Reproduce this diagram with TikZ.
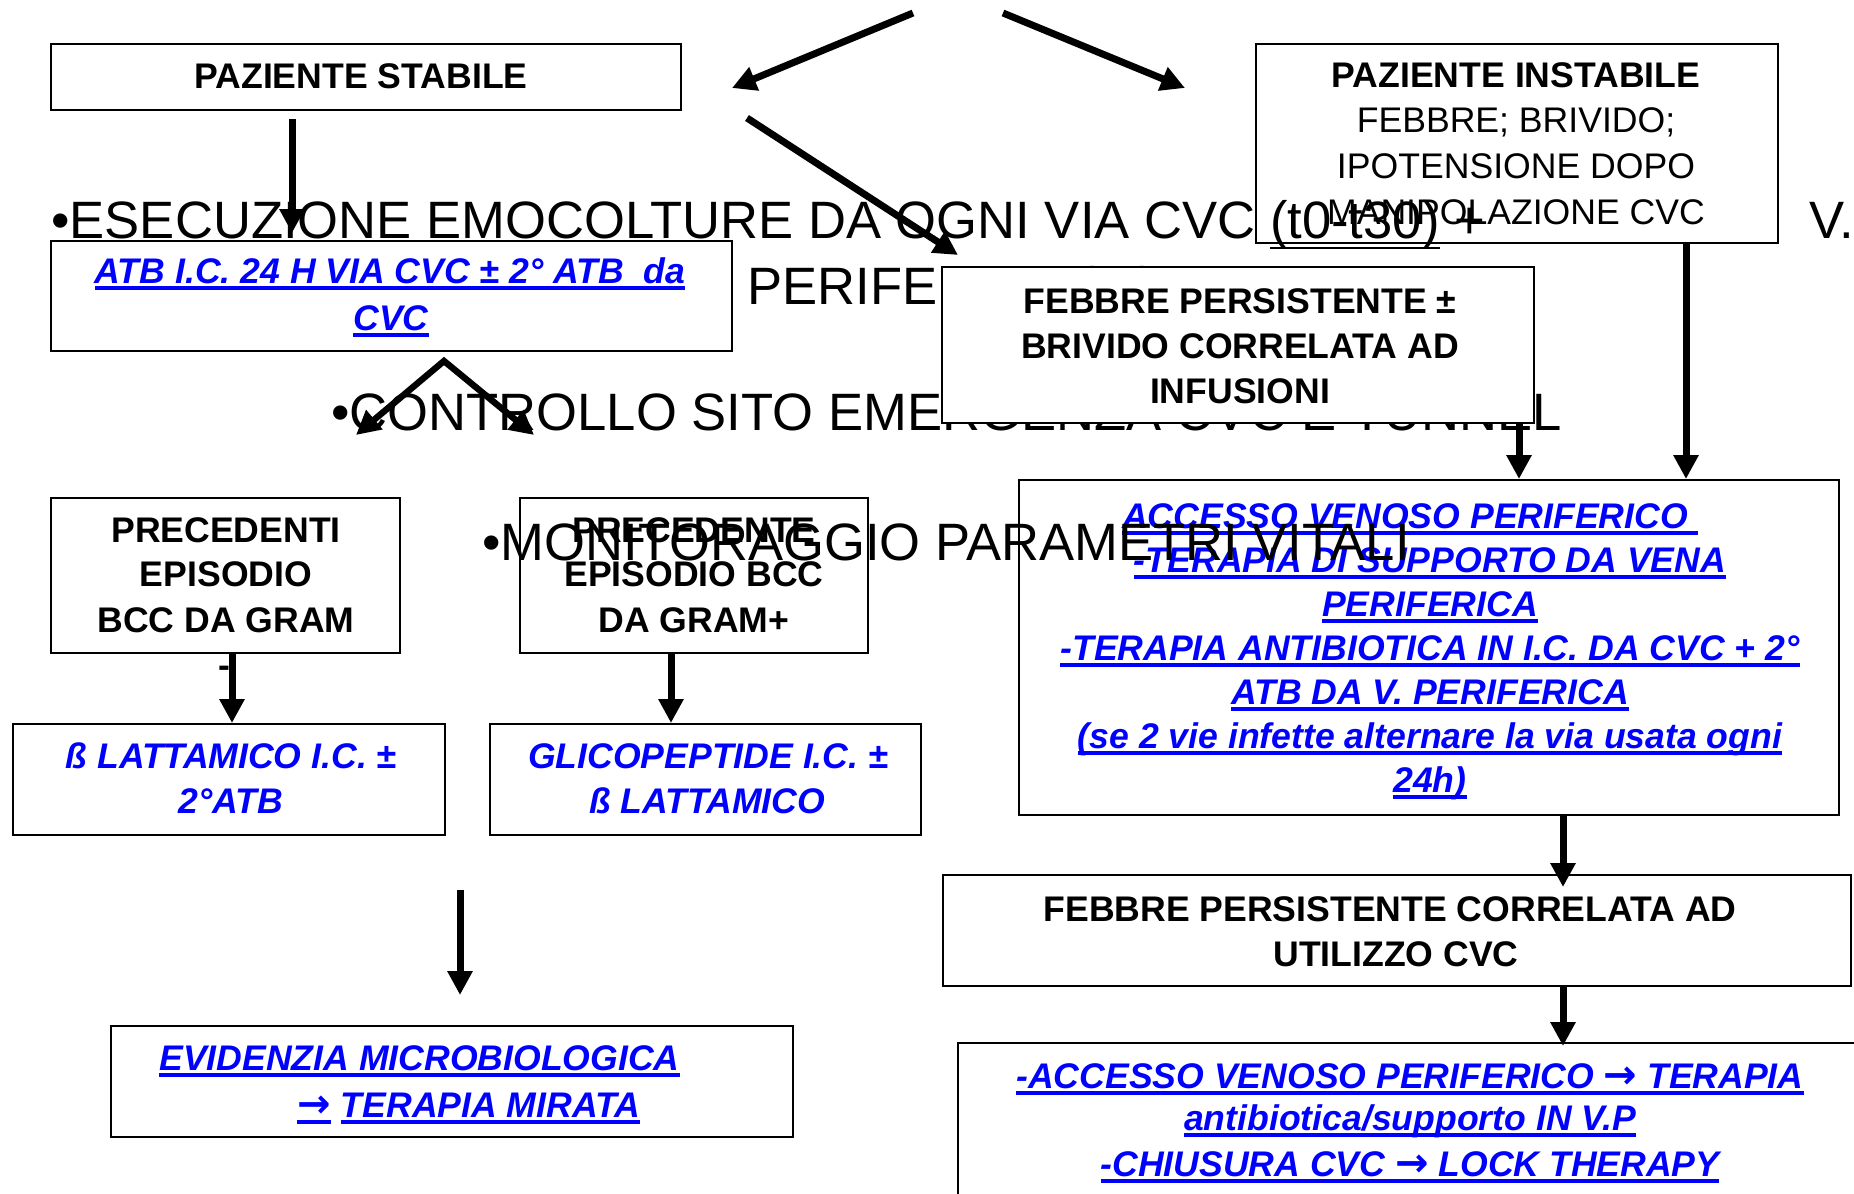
\documentclass[tikz,border=0pt]{standalone}
\usepackage{fontspec}
\setmainfont{Liberation Sans}
\newfontfamily\arrf{DejaVu Sans}
\usetikzlibrary{arrows.meta}
\definecolor{lnkblue}{RGB}{0,0,255}
\newsavebox\ulbox
\newcommand\ulx[1]{\sbox\ulbox{#1}\rlap{\rule[-3.6pt]{\wd\ulbox}{2.3pt}}\usebox\ulbox}
\newcommand\ulthin[1]{\sbox\ulbox{#1}\rlap{\rule[-5.7pt]{\wd\ulbox}{1.35pt}}\usebox\ulbox}
\newcommand\rarr{{\arrf\fontsize{20}{20}\selectfont\bfseries\itshape →}}
\begin{document}
\begin{tikzpicture}[x=0.5pt,y=-0.5pt,
  box/.style={draw=black, line width=1pt, rectangle, inner sep=0pt},
  bx/.style={font=\fontsize{17.8}{20}\selectfont\bfseries, anchor=base, inner sep=0pt},
  rx/.style={font=\fontsize{17.8}{20}\selectfont, anchor=base, inner sep=0pt},
  ix/.style={font=\fontsize{17.8}{20}\selectfont\bfseries\itshape, text=lnkblue, anchor=base, inner sep=0pt},
  big/.style={font=\fontsize{26.3}{30}\selectfont, anchor=base west, inner sep=0pt},
  arr/.style={line width=3.5pt, -{Triangle[length=12pt,width=12pt]}},
]
\useasboundingbox (0,0) rectangle (1854,1194);
\clip (0,0) rectangle (1854,1194);
\fill[white] (0,0) rectangle (1854,1194);

% boxes (unfilled)
\node[box, minimum width=315pt, minimum height=33pt] (A) at (366,77) {};
\node[box, minimum width=261pt, minimum height=99.5pt] (B) at (1517,143.5) {};
\node[box, minimum width=340.5pt, minimum height=55pt] (C) at (391.5,296) {};
\node[box, minimum width=174.5pt, minimum height=77.5pt] (E) at (225.5,575.5) {};
\node[box, minimum width=174pt, minimum height=77.5pt] (F) at (694,575.5) {};
\node[box, minimum width=216pt, minimum height=55.5pt] (G) at (229,779.5) {};
\node[box, minimum width=215.5pt, minimum height=55.5pt] (H) at (705.5,779.5) {};
\node[box, minimum width=410pt, minimum height=167.5pt] (I) at (1429,647.5) {};
\node[box, minimum width=454pt, minimum height=55.5pt] (J) at (1397,930.5) {};
\node[box, minimum width=461pt, minimum height=93.5pt] (K) at (1419,1136.5) {};
\node[box, minimum width=341pt, minimum height=55.5pt] (L) at (452,1081.5) {};

% box texts
\node[bx] (tA) at (361,88) {PAZIENTE STABILE};
\node[bx] (tB1) at (1516,87) {PAZIENTE INSTABILE};
\node[rx] (tB2) at (1516,132) {FEBBRE; BRIVIDO;};
\node[rx] (tB3) at (1516,178) {IPOTENSIONE DOPO};
\node[rx] (tB4) at (1516,224) {MANIPOLAZIONE CVC};

\node[ix] (tC1) at (390,283) {\ulx{ATB I.C. 24 H VIA CVC ± 2° ATB\ \ da}};
\node[ix] (tC2) at (391,330) {\ulx{CVC}};

\node[bx] (tE1) at (226,542) {PRECEDENTI};
\node[bx] (tE2) at (226,586) {EPISODIO};
\node[bx] (tE3) at (226,632) {BCC DA GRAM};
\node[bx] (tE4) at (224,677) {-};

\node[bx] (tF1) at (694,542) {PRECEDENTE};
\node[bx] (tF2) at (694,586) {EPISODIO BCC};
\node[bx] (tF3) at (694,632) {DA GRAM+};

\node[ix] (tG1) at (231,768) {ß LATTAMICO I.C. ±};
\node[ix] (tG2) at (231,813) {2°ATB};
\node[ix] (tH1) at (708,768) {GLICOPEPTIDE I.C. ±};
\node[ix] (tH2) at (707,813) {ß LATTAMICO};

\node[ix] (tI1) at (1410,528) {\ulx{ACCESSO VENOSO PERIFERICO }};
\node[ix] (tI2) at (1430,572) {\ulx{-TERAPIA DI SUPPORTO DA VENA}};
\node[ix] (tI3) at (1430,616) {\ulx{PERIFERICA}};
\node[ix] (tI4) at (1430,660) {\ulx{-TERAPIA ANTIBIOTICA IN I.C. DA CVC + 2°}};
\node[ix] (tI5) at (1430,704) {\ulx{ATB DA V. PERIFERICA}};
\node[ix] (tI6) at (1430,748) {\ulx{(se 2 vie infette alternare la via usata ogni}};
\node[ix] (tI7) at (1430,792) {\ulx{24h)}};

\node[bx] (tJ1) at (1390,921) {FEBBRE PERSISTENTE CORRELATA AD};
\node[bx] (tJ2) at (1396,966) {UTILIZZO CVC};

\node[ix] (tK1) at (1410,1088) {\ulx{-ACCESSO VENOSO PERIFERICO \rarr\ TERAPIA}};
\node[ix] (tK2) at (1410,1130) {\ulx{antibiotica/supporto IN V.P}};
\node[ix] (tK3) at (1410,1176) {\ulx{-CHIUSURA CVC \rarr\ LOCK THERAPY}};

\node[ix, anchor=base west] (tL1) at (159,1070) {\ulx{EVIDENZIA MICROBIOLOGICA}};
\node[ix, anchor=base west] (tL2) at (297,1117) {\ulx{\rarr}\ \ulx{TERAPIA MIRATA}};

% big background bullet text
\node[big] (P1) at (51,238) {•ESECUZIONE EMOCOLTURE DA OGNI VIA CVC \ulthin{(t0-t30)} +};
\node[big] (P1b) at (1809,238) {V.};
\node[big] (P2) at (747,304) {PERIFERICA (t0)};
\node[big] (P3) at (331,430) {•CONTROLLO SITO EMERGENZA CVC E TUNNEL};
\node[big] (P4) at (482,560) {•MONITORAGGIO PARAMETRI VITALI};

% filled box on top
\node[box, fill=white, minimum width=296pt, minimum height=78pt] (D) at (1238,345) {};
\node[bx] (tD1) at (1240,313) {FEBBRE PERSISTENTE ±};
\node[bx] (tD2) at (1240,358) {BRIVIDO CORRELATA AD};
\node[bx] (tD3) at (1240,403) {INFUSIONI};

% arrows
\coordinate (s1) at (913,13);  \coordinate (e1) at (732,88);
\coordinate (s2) at (1003,13); \coordinate (e2) at (1185,88);
\coordinate (s3) at (747,118); \coordinate (e3) at (958,255);
\coordinate (x4) at (292,0);   \coordinate (e4) at (292,233);
\coordinate (x5) at (444,0);
\coordinate (apex) at ([yshift=-4.5pt]C.south -| x5);
\coordinate (e5) at (356,435); \coordinate (e6) at (534,435);
\coordinate (x7) at (232,0);   \coordinate (x8) at (671,0);
\coordinate (s9) at (460,890); \coordinate (e9) at (460,995);
\coordinate (x10) at (1519,0); \coordinate (x11) at (1686,0);
\coordinate (x12) at (1563,0);

\draw[arr] (s1) -- (e1);
\draw[arr] (s2) -- (e2);
\draw[arr] (s3) -- (e3);
\draw[arr] ([yshift=-4pt]A.south -| x4) -- (e4);
\draw[line width=3.2pt, line join=miter, {Triangle[length=12pt,width=12pt]}-{Triangle[length=12pt,width=12pt]}] (e5) -- (apex) -- (e6);
\draw[arr] (E.south -| x7) -- (G.north -| x7);
\draw[arr] (F.south -| x8) -- (H.north -| x8);
\draw[arr] (s9) -- (e9);
\draw[arr] (D.south -| x10) -- (I.north -| x10);
\draw[arr] (B.south -| x11) -- (I.north -| x11);
\draw[arr] (I.south -| x12) -- ([yshift=-6.5pt]J.north -| x12);
\draw[arr] (J.south -| x12) -- ([yshift=-2pt]K.north -| x12);
\end{tikzpicture}
\end{document}
